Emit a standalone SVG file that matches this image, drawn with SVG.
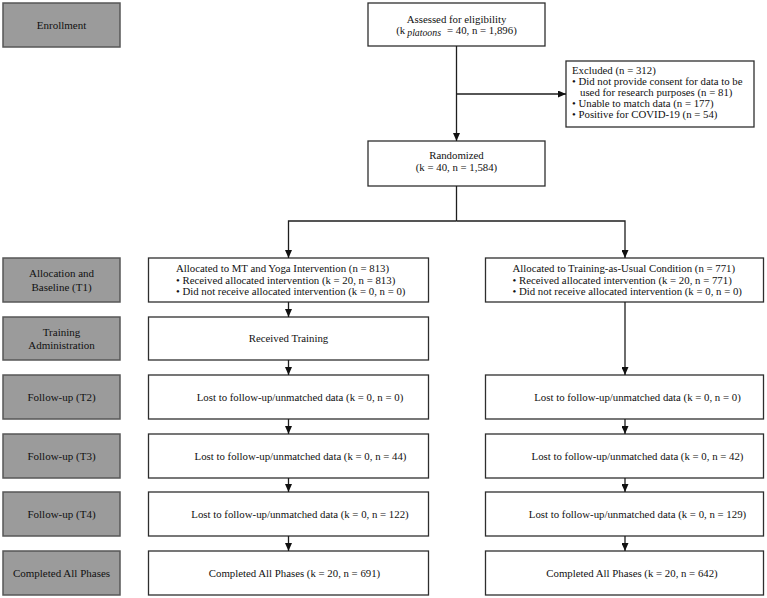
<svg xmlns="http://www.w3.org/2000/svg" width="767" height="598" viewBox="0 0 767 598">
<style>
.g{fill:#9b9b9b;stroke:#575757;stroke-width:1.5}
.b{fill:#fff;stroke:#2e2e2e;stroke-width:1.3}
text{font-family:"Liberation Serif","Times New Roman",serif;font-size:10.8px;fill:#111}
.s{font-size:11px}
.c{text-anchor:middle}
.ln{fill:none;stroke:#1e1e1e;stroke-width:1.3}
.a{marker-end:url(#ah)}
</style>
<defs>
<marker id="ah" viewBox="0 0 8 7" refX="8" refY="3.5" markerWidth="8" markerHeight="7" markerUnits="userSpaceOnUse" orient="auto">
<path d="M0,0 L8,3.5 L0,7 z" fill="#111"/>
</marker>
</defs>

<g id="stage-enrollment"><rect class="g" x="3" y="3" width="117" height="44"/><text class="c s" x="61.5" y="28.5">Enrollment</text></g>
<g id="stage-allocation"><rect class="g" x="3" y="258" width="117" height="44"/><text class="c s" x="61.5" y="277">Allocation and</text><text class="c s" x="61.5" y="290.5">Baseline (T1)</text></g>
<g id="stage-training"><rect class="g" x="3" y="317" width="117" height="43"/><text class="c s" x="61.5" y="336">Training</text><text class="c s" x="61.5" y="349">Administration</text></g>
<g id="stage-t2"><rect class="g" x="3" y="375" width="117" height="44"/><text class="c s" x="61.5" y="401">Follow-up (T2)</text></g>
<g id="stage-t3"><rect class="g" x="3" y="434" width="117" height="44"/><text class="c s" x="61.5" y="460">Follow-up (T3)</text></g>
<g id="stage-t4"><rect class="g" x="3" y="492" width="117" height="44"/><text class="c s" x="61.5" y="518">Follow-up (T4)</text></g>
<g id="stage-completed"><rect class="g" x="3" y="551" width="117" height="44"/><text class="c s" x="61.5" y="577">Completed All Phases</text></g>

<g id="assessed"><rect class="b" x="368" y="3" width="177" height="43"/>
<text class="c" x="456.5" y="23">Assessed for eligibility</text>
<text class="c" x="456.5" y="34">(k<tspan font-style="italic" font-size="9.8px" dx="2" dy="1.5">platoons</tspan><tspan dx="6" dy="-1.5">= 40, n = 1,896)</tspan></text></g>

<g id="excluded"><rect class="b" x="566" y="61" width="188" height="66"/>
<text x="572" y="73.5">Excluded (n = 312)</text>
<text x="572" y="84.5">• Did not provide consent for data to be</text>
<text x="580" y="95.5">used for research purposes (n = 81)</text>
<text x="572" y="106.5">• Unable to match data (n = 177)</text>
<text x="572" y="117.5">• Positive for COVID-19 (n = 54)</text></g>

<g id="randomized"><rect class="b" x="368" y="141" width="177" height="45"/>
<text class="c" x="456.5" y="159">Randomized</text>
<text class="c" x="456.5" y="170.5">(k = 40, n = 1,584)</text></g>

<g id="alloc-mt"><rect class="b" x="148.5" y="258" width="280" height="44"/>
<text x="176" y="272">Allocated to MT and Yoga Intervention (n = 813)</text>
<text x="176" y="283.5">• Received allocated intervention (k = 20, n = 813)</text>
<text x="176" y="295">• Did not receive allocated intervention (k = 0, n = 0)</text></g>

<g id="alloc-tau"><rect class="b" x="485.5" y="258" width="278" height="44"/>
<text x="512.5" y="272">Allocated to Training-as-Usual Condition (n = 771)</text>
<text x="512.5" y="283.5">• Received allocated intervention (k = 20, n = 771)</text>
<text x="512.5" y="295">• Did not receive allocated intervention (k = 0, n = 0)</text></g>

<g id="training-mt"><rect class="b" x="148.5" y="317" width="280" height="43"/><text class="c" x="288.5" y="342">Received Training</text></g>

<g id="t2-mt"><rect class="b" x="148.5" y="375" width="280" height="44"/><text class="c" x="300" y="401">Lost to follow-up/unmatched data (k = 0, n = 0)</text></g>
<g id="t3-mt"><rect class="b" x="148.5" y="434" width="280" height="44"/><text class="c" x="300.5" y="460">Lost to follow-up/unmatched data (k = 0, n = 44)</text></g>
<g id="t4-mt"><rect class="b" x="148.5" y="492" width="280" height="44"/><text class="c" x="300" y="518">Lost to follow-up/unmatched data (k = 0, n = 122)</text></g>
<g id="done-mt"><rect class="b" x="148.5" y="551" width="280" height="44"/><text class="c" x="294.5" y="577">Completed All Phases (k = 20, n = 691)</text></g>

<g id="t2-tau"><rect class="b" x="485.5" y="375" width="278" height="44"/><text class="c" x="637.5" y="401">Lost to follow-up/unmatched data (k = 0, n = 0)</text></g>
<g id="t3-tau"><rect class="b" x="485.5" y="434" width="278" height="44"/><text class="c" x="637.5" y="460">Lost to follow-up/unmatched data (k = 0, n = 42)</text></g>
<g id="t4-tau"><rect class="b" x="485.5" y="492" width="278" height="44"/><text class="c" x="637.5" y="518">Lost to follow-up/unmatched data (k = 0, n = 129)</text></g>
<g id="done-tau"><rect class="b" x="485.5" y="551" width="278" height="44"/><text class="c" x="632" y="577">Completed All Phases (k = 20, n = 642)</text></g>

<g id="connectors">
<line class="ln a" x1="456.5" y1="46" x2="456.5" y2="141"/>
<line class="ln a" x1="456.5" y1="94" x2="566" y2="94"/>
<polyline class="ln" points="456.5,186 456.5,221"/>
<polyline class="ln a" points="456.5,221 288.5,221 288.5,258"/>
<polyline class="ln a" points="456.5,221 625,221 625,258"/>
<line class="ln a" x1="288.5" y1="302" x2="288.5" y2="317"/>
<line class="ln a" x1="288.5" y1="360" x2="288.5" y2="375"/>
<line class="ln a" x1="288.5" y1="419" x2="288.5" y2="434"/>
<line class="ln a" x1="288.5" y1="478" x2="288.5" y2="492"/>
<line class="ln a" x1="288.5" y1="536" x2="288.5" y2="551"/>
<line class="ln a" x1="625" y1="302" x2="625" y2="375"/>
<line class="ln a" x1="625" y1="419" x2="625" y2="434"/>
<line class="ln a" x1="625" y1="478" x2="625" y2="492"/>
<line class="ln a" x1="625" y1="536" x2="625" y2="551"/>
</g>
</svg>
